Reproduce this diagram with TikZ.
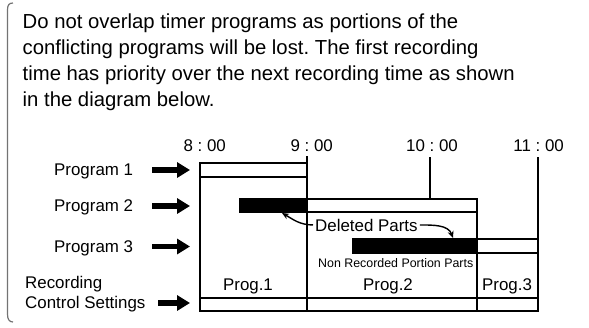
\documentclass[tikz,border=0pt]{standalone}
\usepackage{fontspec}
\setmainfont{Liberation Sans}
\frenchspacing
\usetikzlibrary{arrows.meta}

\tikzset{
  lbl/.style={font=\fontsize{16.9}{20}\selectfont,inner sep=0pt},
  small/.style={font=\fontsize{12.4}{14}\selectfont,inner sep=0pt},
  openbar/.style={draw,line width=2pt,fill=white},
  cutbar/.style={draw,line width=2pt,fill=black},
  rule/.style={line width=1.1pt},
  feed/.style={line width=5.5pt,-{Triangle[length=13pt,width=15pt]}},
  curlarrow/.style={line width=1.4pt,-{Stealth[length=7pt,width=6pt]}},
}

\begin{document}
\begin{tikzpicture}[x=1pt,y=-1pt]
  \useasboundingbox (0,0) rectangle (589,327);
  % side bracket
  \draw[black!55,line width=1.2pt] (13,3) .. controls (9,3) and (7.5,5) .. (7.5,10) -- (7.5,314)
    .. controls (7.5,319) and (9,322) .. (13,322);
  % note
  \node[anchor=north west,align=left,inner sep=0pt,font=\fontsize{20.3}{26}\selectfont] (note) at (22.5,13.5)
    {Do not overlap timer programs as portions of the\\conflicting programs will be lost. The first recording\\
     time has priority over the next recording time as shown\\in the diagram below.};
  % time marks
  \foreach \x/\h/\t in {200/8/a,307/9/b,432/10/c,538/11/d}
    \node[lbl,anchor=base] (t\t) at (\x,151.7) {\makebox[0pt][r]{\h\ }:\makebox[0pt][l]{\ 00}};
  % bars
  \draw[openbar] (200,163) rectangle (307,177);
  \draw[cutbar] (240,199) rectangle (307,212);
  \draw[openbar] (307,199) rectangle (477,212);
  \draw[cutbar] (353,239) rectangle (477,253);
  \draw[openbar] (477,239) rectangle (538,253);
  \draw[openbar] (200,298) rectangle (538,311);
  % time lines
  \draw[rule] (200,163) -- (200,311);
  \draw[rule] (307,156) -- (307,311);
  \draw[rule] (430,157) -- (430,199);
  \draw[rule] (477,212) -- (477,311);
  \draw[rule] (538,157) -- (538,311);
  % programs
  \foreach \n/\y/\b in {1/170/175.5,2/206/211.5,3/246.5/252}{
    \node[lbl,anchor=base west] (prog\n) at (54,\b) {Program \n};
    \coordinate (out\n) at (152,\y);
    \coordinate (in\n) at (190,\y);
    \draw[feed] (out\n) -- (in\n);
  }
  \node[lbl,anchor=base west] (rec) at (25,288) {Recording};
  \node[lbl,anchor=base west] (ctl) at (25,308.5) {Control Settings};
  \coordinate (out4) at (158,303);
  \coordinate (in4) at (190,303);
  \draw[feed] (out4) -- (in4);
  % result
  \node[lbl,anchor=base] (p1) at (248,290.7) {Prog.1};
  \node[lbl,anchor=base] (p2) at (388,290.7) {Prog.2};
  \node[lbl,anchor=base] (p3) at (507,290.7) {Prog.3};
  \node[lbl,anchor=base west] (del) at (315,231) {Deleted Parts};
  \node[small,anchor=base west] (nonrec) at (318,267.5) {Non Recorded Portion Parts};
  \coordinate (cut2) at (282,213);
  \coordinate (cut3) at (453,238);
  \draw[curlarrow] ([xshift=-2pt]del.west) to[out=180,in=-30] (cut2);
  \draw[curlarrow] ([xshift=2pt]del.east) to[out=0,in=110] (cut3);
\end{tikzpicture}
\end{document}
